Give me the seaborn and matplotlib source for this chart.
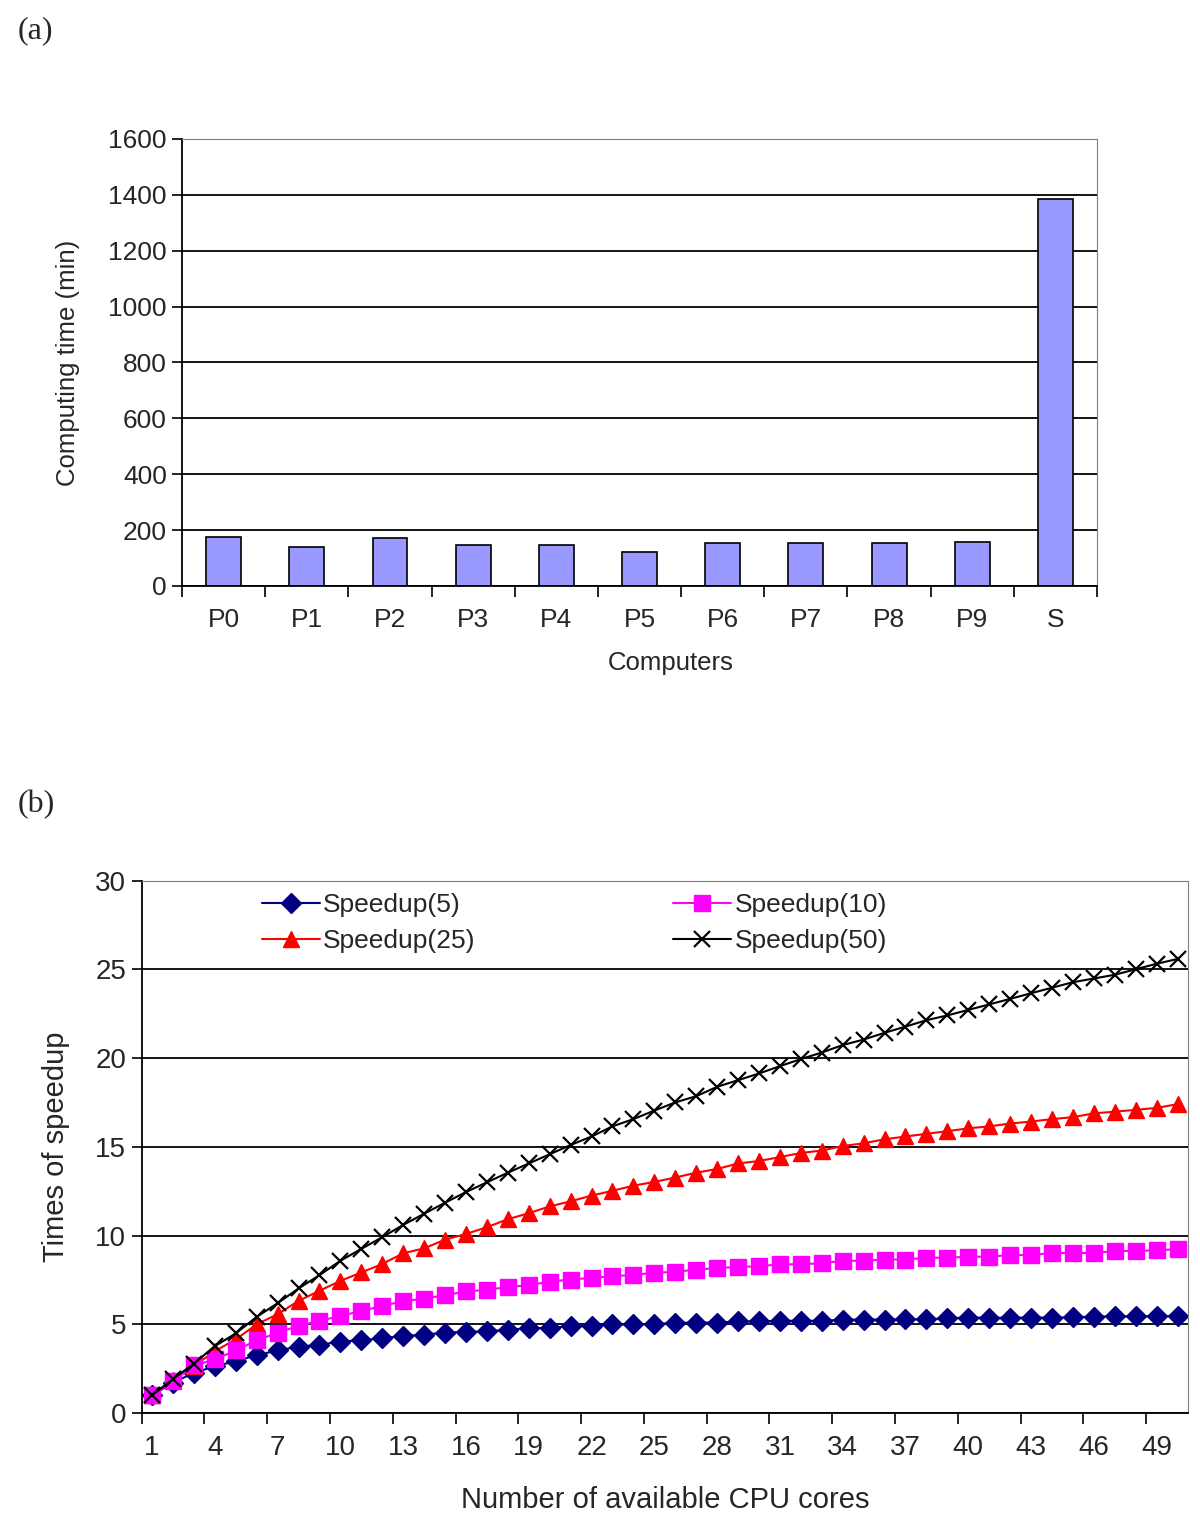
import numpy as np
import pandas as pd
import seaborn as sns
import matplotlib.pyplot as plt
from matplotlib.ticker import FixedLocator

computers = ['P0', 'P1', 'P2', 'P3', 'P4', 'P5', 'P6', 'P7', 'P8', 'P9', 'S']
comp_time = [177, 140, 171, 147, 147, 121, 153, 153, 153, 159, 1385]

cores = list(range(1, 51))
speedup_5 = [1.0, 1.72, 2.26, 2.64, 2.92, 3.26, 3.53, 3.74, 3.85, 4.02,
             4.11, 4.21, 4.34, 4.42, 4.53, 4.58, 4.6, 4.7, 4.77, 4.8,
             4.9, 4.9, 5.0, 5.0, 5.02, 5.08, 5.1, 5.1, 5.16, 5.17,
             5.2, 5.2, 5.2, 5.26, 5.27, 5.27, 5.28, 5.28, 5.34, 5.38,
             5.37, 5.37, 5.38, 5.38, 5.39, 5.44, 5.45, 5.45, 5.45, 5.48]
speedup_10 = [1.0, 1.79, 2.68, 3.02, 3.53, 4.09, 4.53, 4.91, 5.19, 5.47,
              5.75, 6.04, 6.3, 6.45, 6.64, 6.85, 6.94, 7.1, 7.2, 7.41,
              7.52, 7.62, 7.7, 7.79, 7.9, 7.96, 8.08, 8.17, 8.23, 8.27,
              8.38, 8.38, 8.44, 8.58, 8.58, 8.65, 8.65, 8.75, 8.75, 8.81,
              8.81, 8.9, 8.9, 9.02, 9.02, 9.02, 9.13, 9.13, 9.17, 9.23]
speedup_25 = [1.0, 1.89, 2.64, 3.49, 4.15, 5.0, 5.57, 6.32, 6.89, 7.45,
              7.92, 8.4, 9.0, 9.28, 9.77, 10.09, 10.47, 10.92, 11.26, 11.64,
              11.93, 12.25, 12.52, 12.81, 13.02, 13.27, 13.54, 13.75, 14.06, 14.2,
              14.42, 14.65, 14.79, 15.04, 15.2, 15.42, 15.58, 15.73, 15.88, 16.04,
              16.15, 16.31, 16.42, 16.56, 16.67, 16.88, 16.98, 17.08, 17.19, 17.4]
speedup_50 = [1.0, 1.92, 2.79, 3.77, 4.49, 5.42, 6.19, 7.02, 7.77, 8.58,
              9.25, 9.91, 10.6, 11.23, 11.85, 12.45, 13.0, 13.54, 14.06, 14.58,
              15.1, 15.58, 16.15, 16.56, 17.04, 17.5, 17.85, 18.38, 18.75, 19.13,
              19.54, 19.94, 20.31, 20.73, 21.04, 21.42, 21.77, 22.13, 22.4, 22.71,
              23.02, 23.33, 23.65, 23.96, 24.27, 24.48, 24.69, 25.0, 25.31, 25.58]

sns.set_style('white')
plt.rcParams['font.family'] = ['Liberation Sans', 'DejaVu Sans']

fig = plt.figure(figsize=(12, 15.26), dpi=100)

# (a) computing time per computer
ax1 = fig.add_axes([0.1517, 0.616, 0.7625, 0.293])
bars = pd.DataFrame({'computer': computers, 'time': comp_time})
sns.barplot(data=bars, x='computer', y='time', color='#9999FF', saturation=1,
            edgecolor='black', linewidth=1.2, width=0.42, ax=ax1)
ax1.set_xlim(-0.5, 10.5)
ax1.set_ylim(0, 1600)
ax1.set_yticks(range(0, 1601, 200))
ax1.yaxis.grid(True, color='black', lw=1.3)
ax1.set_axisbelow(True)
ax1.xaxis.set_minor_locator(FixedLocator(np.arange(-0.5, 11, 1)))
ax1.tick_params(axis='x', which='major', length=0, pad=16, labelsize=19)
ax1.tick_params(axis='x', which='minor', length=8, width=1.2, color='black', direction='out', bottom=True)
ax1.tick_params(axis='y', length=7, width=1.2, color='black', direction='out', left=True, labelsize=19, pad=4)
ax1.set_xlabel('Computers', fontsize=18.5)
ax1.xaxis.set_label_coords(0.534, -0.145)
ax1.set_ylabel('Computing time (min)', fontsize=18.5, labelpad=20)
for side in ['top', 'right']:
    ax1.spines[side].set_color('#808080')
for side in ['left', 'bottom']:
    ax1.spines[side].set_color('black')
    ax1.spines[side].set_linewidth(1.3)

# (b) speedup vs available cores
ax2 = fig.add_axes([0.118, 0.074, 0.872, 0.349])
series = [
    ('Speedup(5)', speedup_5, '#000080', 'D', 10),
    ('Speedup(25)', speedup_25, '#FF0000', '^', 12),
    ('Speedup(10)', speedup_10, '#FF00FF', 's', 11),
    ('Speedup(50)', speedup_50, 'black', 'x', 12),
]
for name, vals, col, mk, ms in series:
    sns.lineplot(x=cores, y=vals, color=col, marker=mk, markersize=ms,
                 markeredgecolor=col, markerfacecolor=col, mew=1.6 if mk == 'x' else 1,
                 lw=1.5, label=name, ax=ax2)

ax2.set_xlim(0.5, 50.5)
ax2.set_ylim(0, 30)
ax2.set_yticks(range(0, 31, 5))
ax2.set_xticks(range(1, 51, 3))
ax2.xaxis.set_minor_locator(FixedLocator(np.arange(0.5, 50, 3)))
ax2.yaxis.grid(True, color='black', lw=1.3)
ax2.set_axisbelow(True)
ax2.tick_params(axis='x', which='major', length=0, pad=16, labelsize=20)
ax2.tick_params(axis='x', which='minor', length=8, width=1.2, color='black', direction='out', bottom=True)
ax2.tick_params(axis='y', length=7, width=1.2, color='black', direction='out', left=True, labelsize=20, pad=4)
ax2.set_xlabel('Number of available CPU cores', fontsize=21, labelpad=18)
ax2.set_ylabel('Times of speedup', fontsize=21, labelpad=18)
for side in ['top', 'right']:
    ax2.spines[side].set_color('#808080')
for side in ['left', 'bottom']:
    ax2.spines[side].set_color('black')
    ax2.spines[side].set_linewidth(1.3)

ax2.legend(ncol=2, frameon=False, loc='upper left', bbox_to_anchor=(0.092, 1.021),
           fontsize=19, handlelength=2.2, handletextpad=0.12, columnspacing=7.5,
           labelspacing=0.45)

fig.text(0.015, 0.980, '(a)', fontsize=23, family=['Liberation Serif', 'DejaVu Serif'], va='center')
fig.text(0.015, 0.4725, '(b)', fontsize=23, family=['Liberation Serif', 'DejaVu Serif'], va='center')

fig.savefig('out.png', dpi=100)
